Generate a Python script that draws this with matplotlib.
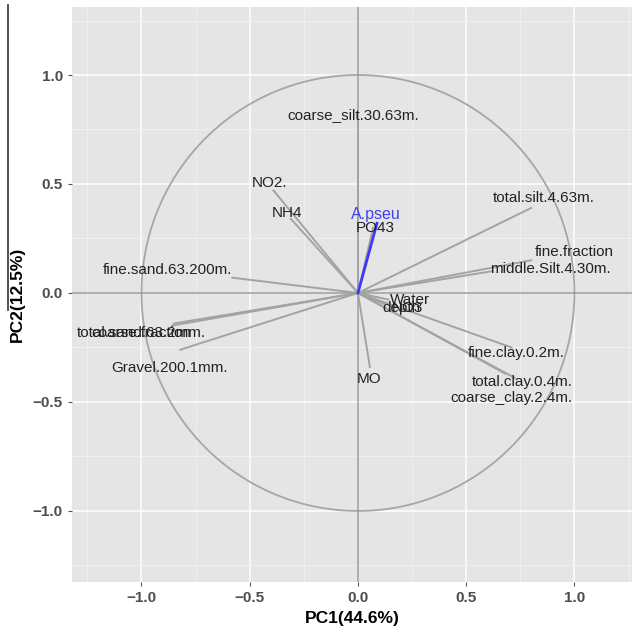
import numpy as np
import matplotlib.pyplot as plt
from matplotlib.lines import Line2D

# PCA variable loadings (arrow tips)
variables = ["coarse_silt.30.63m.", "NO2.", "NH4", "fine.sand.63.200m.",
             "total.sand.63.2mm.", "coarse.fraction", "Gravel.200.1mm.",
             "total.silt.4.63m.", "fine.fraction", "middle.Silt.4.30m.",
             "Water", "depth", "NO3", "fine.clay.0.2m.", "total.clay.0.4m.",
             "coarse_clay.2.4m.", "MO", "PO43"]
pc1 = [0.00, -0.39, -0.31, -0.58, -0.86, -0.85, -0.82,
       0.80, 0.80, 0.62, 0.14, 0.12, 0.16, 0.71, 0.725, 0.68, 0.055, 0.07]
pc2 = [0.80, 0.47, 0.34, 0.07, -0.15, -0.14, -0.26,
       0.39, 0.15, 0.10, -0.03, -0.05, -0.06, -0.25, -0.39, -0.37, -0.34, 0.30]
# label positions
lab_x = [-0.02, -0.41, -0.33, -0.88, -1.00, -1.00, -0.87,
         0.86, 1.00, 0.89, 0.24, 0.20, 0.23, 0.73, 0.76, 0.71, 0.05, 0.08]
lab_y = [0.815, 0.505, 0.365, 0.105, -0.185, -0.185, -0.345,
         0.435, 0.19, 0.11, -0.03, -0.07, -0.07, -0.275, -0.41, -0.48, -0.395, 0.30]

# supplementary (blue) variable
sup_name = "A.pseu"
sup_pc1 = 0.088
sup_pc2 = 0.32

xticks = [-1.0, -0.5, 0.0, 0.5, 1.0]
yticks = [-1.0, -0.5, 0.0, 0.5, 1.0]

fig = plt.figure(figsize=(6.38, 6.27), dpi=100)
ax = fig.add_axes([72 / 638, 1 - 582 / 627, 560 / 638, 575 / 627])
ax.set_facecolor("#E5E5E5")
ax.set_xlim(-1.321, 1.266)
ax.set_ylim(-1.326, 1.312)

ax.set_xticks(xticks)
ax.set_yticks(yticks)
ax.set_xticks([-1.25, -0.75, -0.25, 0.25, 0.75, 1.25], minor=True)
ax.set_yticks([-1.25, -0.75, -0.25, 0.25, 0.75, 1.25], minor=True)
ax.grid(True, which="major", color="white", lw=1.1)
ax.grid(True, which="minor", color="#F2F2F2", lw=0.6)
ax.set_axisbelow(True)
for s in ax.spines.values():
    s.set_visible(False)
ax.tick_params(which="major", length=3, color="#555555", labelsize=11,
               labelcolor="#4D4D4D")
ax.tick_params(which="minor", length=0)
for lab in ax.get_xticklabels() + ax.get_yticklabels():
    lab.set_fontweight("bold")
    lab.set_family("Liberation Sans")

# correlation circle and axes through origin
t = np.linspace(0, 2 * np.pi, 400)
ax.plot(np.cos(t), np.sin(t), color="#A6A6A6", lw=1.3, zorder=2)
ax.axhline(0, color="#9A9A9A", lw=1.1, zorder=2)
ax.axvline(0, color="#9A9A9A", lw=1.1, zorder=2)

for x, y in zip(pc1, pc2):
    ax.plot([0, x], [0, y], color="#A3A3A3", lw=1.4, zorder=3)
for name, x, y in zip(variables, lab_x, lab_y):
    ax.text(x, y, name, ha="center", va="center", fontsize=11,
            family="Liberation Sans", color="#222222", zorder=5)

ax.plot([0, sup_pc1], [0, sup_pc2], color="#3B3BF5", lw=2, zorder=4)
ax.text(sup_pc1 - 0.005, sup_pc2 + 0.04, sup_name, ha="center", va="center",
        fontsize=11.5, family="Liberation Sans", color="#4040F0", zorder=6)

ax.set_xlabel("PC1(44.6%)", fontsize=12.5, fontweight="bold",
              family="Liberation Sans", labelpad=4)
ax.set_ylabel("PC2(12.5%)", fontsize=12.5, fontweight="bold",
              family="Liberation Sans", labelpad=6)

# stray vertical rule at the left edge of the original image
fig.add_artist(Line2D([8 / 638, 8 / 638], [1 - 310 / 627, 1 - 5 / 627],
                      transform=fig.transFigure, color="#333333", lw=1.2))

fig.savefig("out.png", dpi=100)
